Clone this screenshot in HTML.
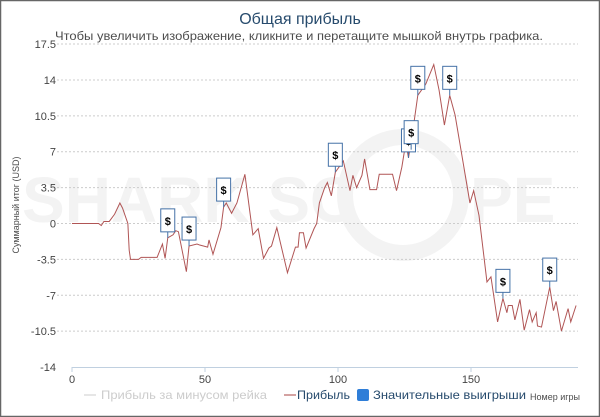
<!DOCTYPE html>
<html><head><meta charset="utf-8"><style>
body{margin:0;background:#fff}
svg{display:block;font-family:"Liberation Sans",sans-serif}
</style></head><body>
<svg id="c" width="600" height="417">
<rect x="0.5" y="0.5" width="599" height="416" fill="#fff" stroke="#666" stroke-width="1.5"/>
<g fill="#f3f3f3" font-weight="bold" font-size="64" font-family="Liberation Sans,sans-serif">
<text x="22" y="222">SHARK SC</text>
<circle cx="403" cy="195" r="58" fill="none" stroke="#f3f3f3" stroke-width="16"/>
<text x="470" y="222">PE</text>
</g>
<text x="300" y="24" text-anchor="middle" font-size="16" fill="#274b6d">Общая прибыль</text>
<text x="55" y="40" font-size="12" fill="#4d4d4d" textLength="488" lengthAdjust="spacingAndGlyphs">Чтобы увеличить изображение, кликните и перетащите мышкой внутрь графика.</text>
<text transform="translate(19,205) rotate(-90)" text-anchor="middle" font-size="9" fill="#4d4d4d">Суммарный итог (USD)</text>
<text x="580" y="400" text-anchor="end" font-size="9" fill="#4d4d4d">Номер игры</text>
<g id="grid"></g><g id="axes"></g><g id="series"></g><g id="marks"></g>
<g font-size="12">
<line x1="84" y1="395" x2="96" y2="395" stroke="#ccc"/>
<text x="101" y="399" fill="#ccc" textLength="166" lengthAdjust="spacingAndGlyphs">Прибыль за минусом рейка</text>
<line x1="284" y1="395" x2="296" y2="395" stroke="#aa4643"/>
<text x="297" y="399" fill="#274b6d" textLength="53" lengthAdjust="spacingAndGlyphs">Прибыль</text>
<rect x="357" y="389" width="12" height="12" rx="2" fill="#2f7ed8"/>
<text x="373" y="399" fill="#274b6d" textLength="153" lengthAdjust="spacingAndGlyphs">Значительные выигрыши</text>
</g>
</svg>
<script>
const games=[0,10,11,12,14,16,18,19,21,21.5,22,25,26,32,34,35,36,38,39,40,43,44,47,48,51,51.5,53,56,57,58,60,62,65,68,70,72,74,75,77,81,84,85,85.5,87,88,91,92,93,95,96,97.5,99,102,104.5,105.6,107,109,110,112,114.5,115.5,120.5,122,124,125.5,126.5,128,130,133,136,138,140,142,144,149.6,151,153,156,157.5,160,162,163.5,164,165.5,166.5,168.4,170,172,173,174.5,175,176.5,179.6,181,182,184,186.5,187.5,189.5];
const profit=[0,0,-0.2,0.2,0.2,0.9,2,1.5,0,-2.6,-3.5,-3.5,-3.3,-3.3,-2,-3.4,-1.4,-1.1,-0.7,-0.8,-4.7,-2.2,-2,-2.1,-2.3,-1.6,-3,-0.4,1.6,2,1,2,4.8,-1.1,-0.5,-3.4,-2.4,-2.2,-0.4,-4.8,-2.3,-2.3,-0.9,-0.9,-2.4,-0.5,0,2,3.5,4,2.7,5,6.1,3.2,4.7,3.5,4.7,6.3,3.3,3.3,4.8,4.8,3.2,5.5,7.9,6.4,8.8,12.5,13.6,15.5,13,9.6,12.5,10.6,2,3.2,0.8,-5.7,-5.2,-9.6,-7.3,-8.7,-8,-8,-9.4,-7.4,-10.4,-8.4,-9.6,-8.7,-10,-10.1,-6.2,-8.5,-7.6,-10.5,-8.3,-9.6,-8];
const winGames=[36,44,57,99,126.5,127.5,130,142,162,179.6];
const winValues=[-1.4,-2.2,1.6,5,6.4,7.2,12.5,12.5,-7.3,-6.2];
const yTicks=[17.5,14,10.5,7,3.5,0,-3.5,-7,-10.5,-14];
const xTicks=[0,50,100,150];
const NS='http://www.w3.org/2000/svg';
const X=g=>72+g*2.66, Y=v=>223.5-v*(323/31.5);
function mk(t,p,a){const e=document.createElementNS(NS,t);for(const k in a)e.setAttribute(k,a[k]);p.appendChild(e);return e;}
const grid=document.getElementById('grid'),axes=document.getElementById('axes');
yTicks.forEach(v=>{
 if(v!==-14){const l=mk('line',grid,{x1:57,x2:578,y1:Y(v),y2:Y(v),stroke:'#ccc','stroke-dasharray':'2,2'});
 
 }
 const t=mk('text',axes,{x:56,y:Y(v)+4,'font-size':11,fill:'#444','text-anchor':'end'});t.textContent=v;
 
 
});
const ax=mk('line',axes,{x1:72,x2:578,y1:367.5,y2:367.5,stroke:'#c0d0e0'});


xTicks.forEach(g=>{
 const tk=mk('line',axes,{x1:X(g),x2:X(g),y1:367,y2:372,stroke:'#c0d0e0'});
 
 
 const t=mk('text',axes,{x:X(g),y:383,'font-size':11,fill:'#444','text-anchor':'middle'});t.textContent=g;
 
 
});
const pl=mk('polyline',document.getElementById('series'),{points:games.map((g,i)=>X(g)+','+Y(profit[i])).join(' '),fill:'none',stroke:'#b05555','stroke-width':1});


const marks=document.getElementById('marks');
winGames.forEach((g,i)=>{
 const x=X(g),y=Y(winValues[i]);
 const gr=mk('g',marks,{});
 
 
 mk('line',gr,{x1:x,x2:x,y1:y,y2:y-6,stroke:'#4572a7'});
 mk('rect',gr,{x:x-7,y:y-29,width:14,height:23,fill:'#fff',stroke:'#4572a7'});
 const t=mk('text',gr,{x:x,y:y-13,'font-size':11,'font-weight':'bold','text-anchor':'middle',fill:'#000'});t.textContent='$';
});
</script>
</body></html>
